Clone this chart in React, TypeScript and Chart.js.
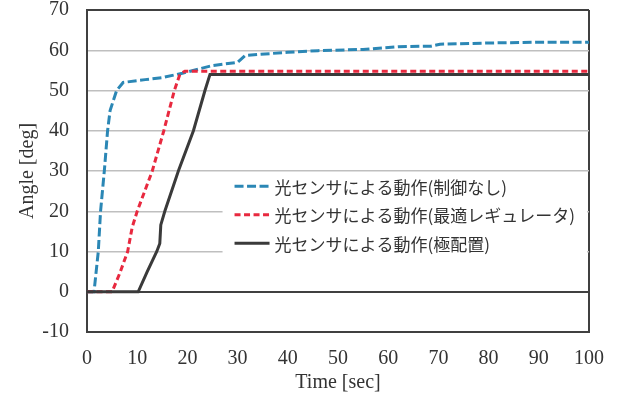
import React, { useEffect, useRef } from "react";
import { Chart, registerables } from "chart.js";

Chart.register(...registerables);

// Time [sec] and Angle [deg] for each series
const timeFree = [0, 1.4, 2.25, 2.7, 3.45, 4.1, 4.6, 5.9, 7.2, 11.6, 15, 19, 25, 30, 31.5, 40, 46, 55, 62, 68.5, 70.3, 80, 90, 100];
const angleFree = [0, 0, 10, 20, 30, 40, 45, 50, 52, 52.7, 53.2, 54.3, 56.2, 57, 58.7, 59.5, 59.9, 60.2, 60.9, 61, 61.5, 61.8, 62, 62];

const timeLqr = [0, 5, 6.5, 8.1, 9, 10, 13, 15.3, 17.4, 18.5, 19.5, 100];
const angleLqr = [0, 0, 4.5, 10, 16, 20, 30, 40, 50, 54, 54.8, 54.8];

const timePole = [0, 10.2, 12, 13.9, 14.5, 14.7, 15.5, 18.2, 21.2, 23.5, 24.5, 100];
const anglePole = [0, 0, 5, 10, 12, 16.6, 20, 30, 40, 50, 54, 54];

const seriesLabels = [
  "光センサによる動作(制御なし)",
  "光センサによる動作(最適レギュレータ)",
  "光センサによる動作(極配置)",
];
const seriesColors = ["#2b87b5", "#e8293f", "#3a3a3a"];
const seriesDashes: number[][] = [[9, 3.5], [6, 3.5], []];

const xTicks = [0, 10, 20, 30, 40, 50, 60, 70, 80, 90, 100];
const yTicks = [-10, 0, 10, 20, 30, 40, 50, 60, 70];

const pts = (xs: number[], ys: number[]) => xs.map((x, i) => ({ x, y: ys[i] }));

const FRAME = "#404040";
const GRID = "#bfbfbf";
const SERIF = '"Liberation Serif", "Times New Roman", serif';

const legendPlugin = {
  id: "insideLegend",
  beforeDatasetsDraw(chart: any) {
    const ctx = chart.ctx;
    const xs = chart.scales.x;
    const ys = chart.scales.y;
    const left = xs.getPixelForValue(27);
    const right = chart.chartArea.right - 2;
    const top = ys.getPixelForValue(29.7);
    const bottom = ys.getPixelForValue(8.4);
    ctx.save();
    ctx.fillStyle = "#ffffff";
    ctx.fillRect(left, top, right - left, bottom - top);
    const rowH = 28.5;
    const y0 = top + 14;
    chart.data.datasets.forEach((ds: any, i: number) => {
      const y = y0 + i * rowH;
      const lx = left + 12;
      ctx.beginPath();
      ctx.strokeStyle = ds.borderColor;
      ctx.lineWidth = 3;
      ctx.setLineDash(ds.borderDash || []);
      ctx.lineDashOffset = 0;
      ctx.moveTo(lx, y);
      ctx.lineTo(lx + 35, y);
      ctx.stroke();
      ctx.setLineDash([]);
      ctx.fillStyle = "#333333";
      ctx.font = '17px "Noto Sans CJK JP", sans-serif';
      ctx.textBaseline = "middle";
      ctx.textAlign = "left";
      ctx.fillText(ds.label, lx + 40, y + 1);
    });
    ctx.restore();
  },
};

export default function App() {
  const ref = useRef<HTMLCanvasElement | null>(null);
  useEffect(() => {
    if (!ref.current) return;
    const chart = new Chart(ref.current, {
      type: "line",
      data: {
        datasets: [
          { label: seriesLabels[0], data: pts(timeFree, angleFree), borderColor: seriesColors[0], borderDash: seriesDashes[0], borderWidth: 3, pointRadius: 0, tension: 0, order: 2 },
          { label: seriesLabels[1], data: pts(timeLqr, angleLqr), borderColor: seriesColors[1], borderDash: seriesDashes[1], borderWidth: 3, pointRadius: 0, tension: 0, order: 1 },
          { label: seriesLabels[2], data: pts(timePole, anglePole), borderColor: seriesColors[2], borderDash: seriesDashes[2], borderWidth: 3, pointRadius: 0, tension: 0, order: 0 },
        ],
      },
      options: {
        responsive: false,
        animation: false,
        layout: { padding: { top: 10, right: 30, left: 0, bottom: 0 } },
        plugins: { legend: { display: false }, tooltip: { enabled: false } },
        scales: {
          x: {
            type: "linear",
            min: 0,
            max: 100,
            afterBuildTicks: (s: any) => { s.ticks = xTicks.map((v) => ({ value: v })); },
            afterFit: (s: any) => { s.height = 67; s.paddingLeft = 0; s.paddingRight = 0; },
            ticks: { color: "#333333", font: { family: SERIF, size: 20 }, padding: 15, maxRotation: 0 },
            grid: {
              drawTicks: false,
              color: (c: any) => (c.tick && c.tick.value === 100 ? FRAME : "rgba(0,0,0,0)"),
              lineWidth: 2,
            },
            border: { display: true, color: FRAME, width: 2 },
            title: { display: true, text: "Time [sec]", color: "#333333", font: { family: SERIF, size: 20 }, padding: { top: 0, bottom: 4 } },
          },
          y: {
            type: "linear",
            min: -10,
            max: 70,
            afterBuildTicks: (s: any) => { s.ticks = yTicks.map((v) => ({ value: v })); },
            afterFit: (s: any) => { s.width = 87; s.paddingTop = 0; s.paddingBottom = 0; },
            ticks: { color: "#333333", font: { family: SERIF, size: 20 }, padding: 18 },
            grid: {
              drawTicks: false,
              color: (c: any) => {
                const v = c.tick ? c.tick.value : null;
                return v === 0 || v === 70 || v === -10 ? FRAME : GRID;
              },
              lineWidth: (c: any) => {
                const v = c.tick ? c.tick.value : null;
                return v === 0 || v === 70 || v === -10 ? 2 : 1.5;
              },
            },
            border: { display: true, color: FRAME, width: 2 },
            title: { display: true, text: "Angle [deg]", color: "#333333", font: { family: SERIF, size: 20 }, padding: { top: 16, bottom: 0 } },
          },
        },
      },
      plugins: [legendPlugin],
    } as any);
    return () => chart.destroy();
  }, []);
  return (
    <div style={{ position: "fixed", left: 0, top: 0, width: 619, height: 399, background: "#ffffff" }}>
      <canvas ref={ref} width={619} height={399} style={{ display: "block" }} />
    </div>
  );
}
